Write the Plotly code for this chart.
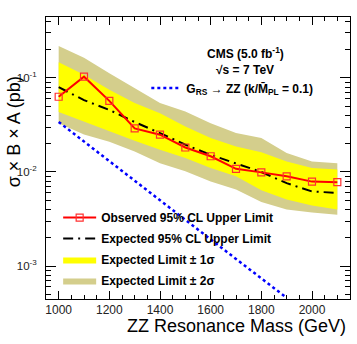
import plotly.graph_objects as go

# ZZ resonance mass points (GeV)
mass = [1000, 1100, 1200, 1300, 1400, 1500, 1600, 1700, 1800, 1900, 2000, 2100]

# limits on sigma x B x A (pb)
observed = [0.063, 0.103, 0.057, 0.029, 0.0249, 0.0182, 0.0147, 0.0108, 0.0099, 0.0090, 0.0079, 0.0078]
expected = [0.0796, 0.058, 0.0457, 0.0339, 0.0259, 0.0195, 0.0152, 0.0124, 0.0100, 0.0076, 0.0062, 0.0060]
one_sig_up = [0.147, 0.108, 0.075, 0.054, 0.042, 0.0305, 0.023, 0.0187, 0.0162, 0.0129, 0.0110, 0.0106]
one_sig_dn = [0.0433, 0.034, 0.027, 0.0215, 0.0172, 0.0141, 0.0110, 0.0090, 0.0064, 0.0051, 0.0044, 0.0040]
two_sig_up = [0.218, 0.164, 0.112, 0.078, 0.054, 0.044, 0.033, 0.0259, 0.023, 0.0159, 0.0129, 0.0124]
two_sig_dn = [0.033, 0.025, 0.021, 0.0165, 0.0124, 0.0102, 0.0079, 0.0065, 0.0048, 0.0040, 0.0037, 0.0035]

# RS graviton theory curve (k/MPL = 0.1)
theory_mass = [1000, 1100, 1200, 1300, 1400, 1500, 1600, 1700, 1800, 1900]
theory_xs = [0.034, 0.021, 0.0130, 0.0081, 0.0050, 0.0031, 0.0019, 0.00119, 0.00074, 0.00046]

KHAKI = "#d4ce8c"
FONT = "Liberation Sans"

fig = go.Figure()

# 2 sigma band
fig.add_trace(go.Scatter(
    x=mass + mass[::-1], y=two_sig_up + two_sig_dn[::-1],
    fill="toself", fillcolor=KHAKI, line=dict(width=0), mode="lines",
    name="Expected Limit \u00b1 2\u03c3", legendrank=4, legendgroup="s2",
    hoverinfo="skip"))
# 1 sigma band
fig.add_trace(go.Scatter(
    x=mass + mass[::-1], y=one_sig_up + one_sig_dn[::-1],
    fill="toself", fillcolor="#ffff00", line=dict(width=0), mode="lines",
    name="Expected Limit \u00b1 1\u03c3", legendrank=3, legendgroup="s1",
    hoverinfo="skip"))
# expected
fig.add_trace(go.Scatter(
    x=mass, y=expected, mode="lines",
    line=dict(color="black", width=2, dash="10px,5px,2px,5px"),
    name="Expected 95% CL Upper Limit", legendrank=2, legendgroup="exp"))
# observed
fig.add_trace(go.Scatter(
    x=mass, y=observed, mode="lines+markers",
    line=dict(color="#ff0000", width=2),
    marker=dict(symbol="square-open", size=7, color="#ff3030", line=dict(width=1.2)),
    name="Observed 95% CL Upper Limit", legendrank=1, legendgroup="obs"))
# theory
fig.add_trace(go.Scatter(
    x=theory_mass, y=theory_xs, mode="lines",
    line=dict(color="#0000ff", width=2.5, dash="3px,3px"),
    name="G<sub>RS</sub> \u2192 ZZ (k/M\u0304<sub>PL</sub> = 0.1)", legend="legend2"))

minor_y = [k * 10.0 ** e for e in range(-4, 0) for k in range(2, 10)]

fig.update_layout(
    width=357, height=344,
    margin=dict(l=46, r=7, t=17, b=45),
    paper_bgcolor="white", plot_bgcolor="white",
    font=dict(family=FONT, color="black", size=12),
    showlegend=True,
    legend=dict(
        x=0.04, y=0.34, xanchor="left", yanchor="top",
        bgcolor="rgba(0,0,0,0)", traceorder="grouped",
        font=dict(family=FONT, size=12, weight="bold"),
        itemwidth=33, tracegroupgap=2,
    ),
    legend2=dict(
        x=0.33, y=0.8, xanchor="left", yanchor="top",
        bgcolor="rgba(0,0,0,0)",
        font=dict(family=FONT, size=12, weight="bold"),
    ),
    xaxis=dict(
        range=[950, 2150], showgrid=False, zeroline=False,
        showline=True, linecolor="black", linewidth=1, mirror="allticks",
        ticks="inside", ticklen=8, tickcolor="black", dtick=200, tick0=1000,
        tickfont=dict(size=12, color="#222"),
        minor=dict(ticks="inside", ticklen=4, dtick=50, tickcolor="black"),
    ),
    yaxis=dict(
        type="log", range=[-3.35, -0.353], showgrid=False, zeroline=False,
        showline=True, linecolor="black", linewidth=1, mirror="allticks",
        ticks="inside", ticklen=10, tickcolor="black",
        tickvals=[1e-3, 1e-2, 1e-1],
        ticktext=["10<sup>-3</sup>", "10<sup>-2</sup>", "10<sup>-1</sup>"],
        tickfont=dict(size=11.5, color="#222"), ticklabelstandoff=6,
        minor=dict(ticks="inside", ticklen=5, tickvals=minor_y, tickcolor="black"),
    ),
    annotations=[
        dict(text="<b>CMS (5.0 fb<sup>-1</sup>)</b>", x=0.655, y=0.908,
             xref="paper", yref="paper", showarrow=False, font=dict(size=12)),
        dict(text="<b>\u221as = 7 TeV</b>", x=0.655, y=0.844,
             xref="paper", yref="paper", showarrow=False, font=dict(size=12)),
        dict(text="\u03c3 \u00d7 B \u00d7 A (pb)", x=-0.142, y=0.798, textangle=-90,
             xref="paper", yref="paper", showarrow=False, font=dict(size=18)),
        dict(text="ZZ Resonance Mass (GeV)", x=0.993, y=-0.096, xanchor="right",
             yanchor="middle", xref="paper", yref="paper", showarrow=False,
             font=dict(size=18)),
    ],
)

# drop the default page margin so the figure sits at the window corner
fig.write_html("out.html", config={"displayModeBar": False},
               post_script="document.body.style.margin='0';")
